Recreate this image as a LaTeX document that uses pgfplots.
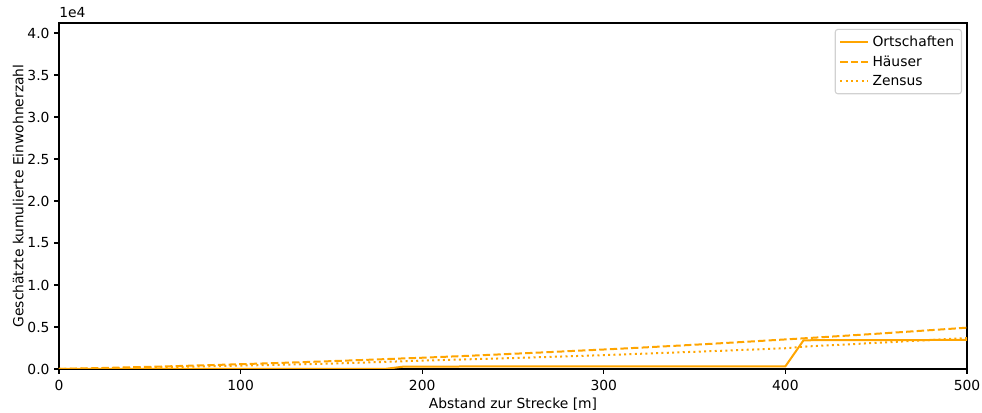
\documentclass[border=0pt]{standalone}
\usepackage{fontspec}
\setmainfont{DejaVu Sans}
\usepackage{pgfplots}
\usepackage{pgfplotstable}
\pgfplotsset{compat=1.18}
\definecolor{mplorange}{HTML}{FFA500}
\pgfplotstableread{
x y
0 0
10 0
20 0
30 0
40 0
50 0
60 5
70 5
80 5
90 5
100 10
110 10
120 10
130 10
140 10
150 15
160 15
170 15
180 20
190 290
200 295
250 300
300 305
350 315
400 320
410 3420
450 3440
500 3460
}\orttab
\pgfplotstableread{
x y
0 0
10 48
20 98
30 150
40 204
50 260
60 318
70 379
80 441
90 506
100 572
110 641
120 711
130 784
140 859
150 935
160 1014
170 1095
180 1178
190 1263
200 1340
210 1430
220 1520
230 1615
240 1710
250 1810
260 1910
270 2010
280 2115
290 2220
300 2320
310 2430
320 2540
330 2655
340 2770
350 2890
360 3010
370 3135
380 3260
390 3390
400 3520
410 3650
420 3785
430 3920
440 4055
450 4195
460 4335
470 4480
480 4625
490 4770
500 4920
}\haustab
\pgfplotstableread{
x y
0 0
10 30
20 65
30 100
40 140
50 180
60 225
70 270
80 315
90 360
100 405
110 450
120 495
130 540
140 590
150 645
160 710
170 780
180 850
190 925
200 1000
210 1060
220 1120
230 1180
240 1240
250 1300
260 1370
270 1440
280 1510
290 1580
300 1650
310 1730
320 1810
330 1890
340 1970
350 2050
360 2130
370 2215
380 2300
390 2385
400 2470
410 2660
420 2770
430 2880
440 2995
450 3110
460 3225
470 3340
480 3455
490 3570
500 3690
}\zenstab
\begin{document}
\begin{tikzpicture}
\path[use as bounding box] (0,0) rectangle (736.5pt,309.75pt);
\begin{axis}[
  at={(44.25pt,33pt)}, anchor=south west,
  scale only axis, width=681pt, height=259.5pt,
  xmin=0, xmax=500, ymin=0, ymax=41190,
  xtick={0,100,200,300,400,500},
  ytick={0,5000,10000,15000,20000,25000,30000,35000,40000},
  yticklabels={0.0,0.5,1.0,1.5,2.0,2.5,3.0,3.5,4.0},
  scaled y ticks=false,
  xtick pos=bottom, ytick pos=left,
  /pgf/number format/assume math mode=true,
  tick align=outside, major tick length=3.6pt,
  tick style={black, line width=0.8pt},
  axis line style={line width=0.8pt},
  font=\fontsize{10.4}{12}\selectfont,
  tick label style={font=\fontsize{10.4}{12}\selectfont},
  xticklabel style={yshift=-1pt},
  xlabel={Abstand zur Strecke [m]},
  ylabel={Geschätzte kumulierte Einwohnerzahl},
  xlabel style={yshift=1pt},
  ylabel style={yshift=-4pt},
  legend cell align=left,
  legend style={at={(0.9945,0.983)}, anchor=north east,
    draw=black!18, rounded corners=2pt, line width=0.8pt,
    font=\fontsize{10.4}{12}\selectfont,
    row sep=1.2pt, inner xsep=3pt, inner ysep=3pt,
    nodes={inner xsep=2.5pt}},
  legend image code/.code={\draw[#1] (0pt,0pt) -- (21pt,0pt);},
  clip mode=individual,
]
\addplot[mplorange, line width=1.5pt] table[x=x,y=y]{\orttab};
\addlegendentry{Ortschaften}
\addplot[mplorange, line width=1.5pt, dash pattern=on 5.55pt off 2.4pt] table[x=x,y=y]{\haustab};
\addlegendentry{Häuser}
\addplot[mplorange, line width=1.5pt, dash pattern=on 1.5pt off 2.5pt] table[x=x,y=y]{\zenstab};
\addlegendentry{Zensus}
\node[anchor=south west, inner sep=0pt, font=\fontsize{10.4}{12}\selectfont] at (rel axis cs:0,1) [yshift=4pt] {1e4};
\end{axis}
\end{tikzpicture}
\end{document}
